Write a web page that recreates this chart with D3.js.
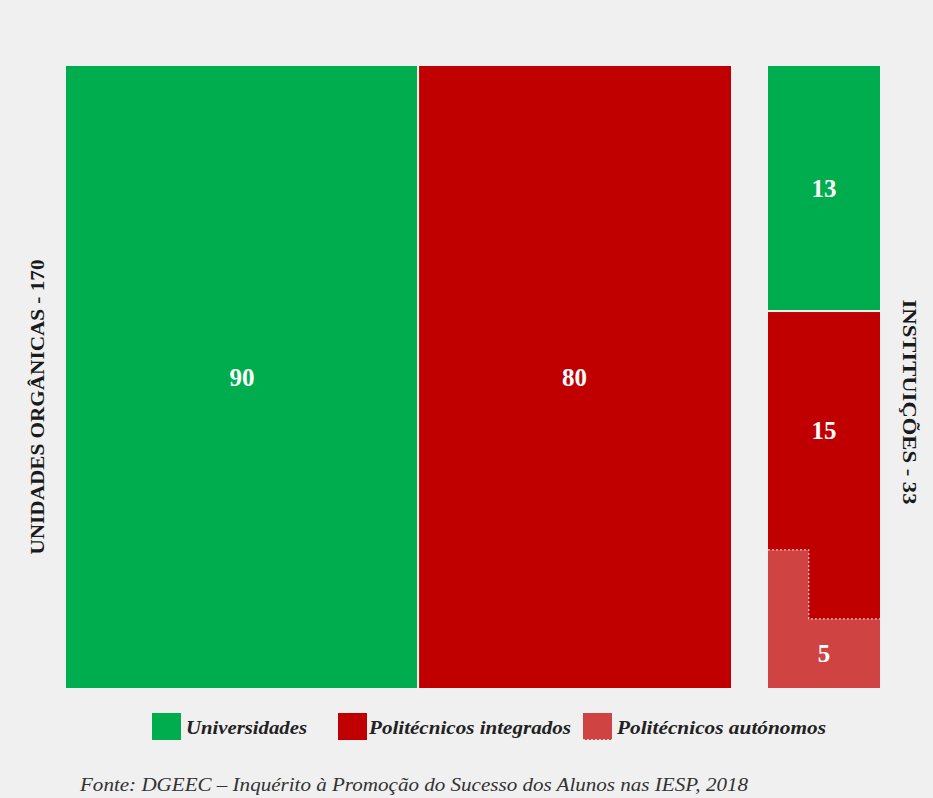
<!DOCTYPE html>
<html><head><meta charset="utf-8">
<script src="https://cdn.jsdelivr.net/npm/d3@7"></script>
<style>html,body{margin:0;padding:0;background:#f0f0f0;}svg{display:block;}</style>
</head><body>
<svg id="chart" width="933" height="798"></svg>
<script>
// ---- data ----
const categories = ["Universidades", "Politécnicos integrados", "Politécnicos autónomos"];
const unidadesValues = [90, 80];          // Unidades orgânicas (Universidades, Politécnicos integrados)
const instituicoesValues = [13, 15, 5];   // Instituições
const unidadesLabel = "UNIDADES ORGÂNICAS - 170";
const instituicoesLabel = "INSTITUIÇÕES - 33";
const sourceText = "Fonte: DGEEC – Inquérito à Promoção do Sucesso dos Alunos nas IESP, 2018";

// ---- style ----
const colors = ["#00ad4e", "#c00000", "#cf4343"];
const serif = "'Liberation Serif', 'DejaVu Serif', serif";
const svg = d3.select("#chart");
svg.append("rect").attr("width", 933).attr("height", 798).attr("fill", "#f0f0f0");

const plotTop = 66, plotBottom = 688;
// Left block
const leftTotal = d3.sum(unidadesValues);
const xL = d3.scaleLinear().domain([0, leftTotal]).range([66, 731]);
const y = d3.scaleLinear().domain([0, 1]).range([plotTop, plotBottom]);
let acc = 0;
const leftData = unidadesValues.map((v, i) => { const d = {v, i, x0: acc, x1: acc + v}; acc += v; return d; });
const gL = svg.append("g");
gL.selectAll("rect").data(leftData).join("rect")
  .attr("x", d => xL(d.x0) + (d.i > 0 ? 1 : 0))
  .attr("width", d => xL(d.x1) - xL(d.x0) - (d.i > 0 ? 1 : 0) - (d.i < leftData.length - 1 ? 1 : 0))
  .attr("y", y(0)).attr("height", y(1) - y(0))
  .attr("fill", d => colors[d.i]);
gL.selectAll("text").data(leftData).join("text")
  .attr("x", d => (xL(d.x0) + xL(d.x1)) / 2)
  .attr("y", (y(0) + y(1)) / 2)
  .attr("dy", "0.35em").attr("text-anchor", "middle")
  .attr("fill", "#fff").attr("font-family", serif).attr("font-weight", "bold").attr("font-size", 25)
  .text(d => d.v);

// Right column
const rightTotal = d3.sum(instituicoesValues);
const xR = d3.scaleLinear().domain([0, 1]).range([768, 880]);
const yR = d3.scaleLinear().domain([0, rightTotal]).range([plotTop, plotBottom]);
const W = xR(1) - xR(0), H = yR(rightTotal) - yR(0);
const gR = svg.append("g");
gR.append("rect").attr("x", xR(0)).attr("width", W)
  .attr("y", yR(0)).attr("height", yR(instituicoesValues[0]) - yR(0) - 1).attr("fill", colors[0]);
gR.append("rect").attr("x", xR(0)).attr("width", W)
  .attr("y", yR(instituicoesValues[0]) + 1).attr("height", yR(rightTotal) - yR(instituicoesValues[0]) - 1).attr("fill", colors[1]);
const rows = 9, rh = H / rows;
const area = instituicoesValues[2] / rightTotal * W * H;
const fullRows = Math.floor(area / (W * rh));
const remW = (area - fullRows * W * rh) / rh;
const yFull = yR(rightTotal) - fullRows * rh;
const yPart = yFull - rh;
const x0 = xR(0), x1 = xR(1), yb = yR(rightTotal);
const lpath = d3.path();
lpath.moveTo(x0, yb); lpath.lineTo(x1, yb); lpath.lineTo(x1, yFull);
lpath.lineTo(x0 + remW, yFull); lpath.lineTo(x0 + remW, yPart); lpath.lineTo(x0, yPart); lpath.closePath();
gR.append("path").attr("d", lpath.toString()).attr("fill", colors[2]);
const dpath = d3.path();
dpath.moveTo(x0, yPart); dpath.lineTo(x0 + remW, yPart); dpath.lineTo(x0 + remW, yFull); dpath.lineTo(x1, yFull);
gR.append("path").attr("d", dpath.toString()).attr("fill", "none")
  .attr("stroke", "#f4c8c8").attr("stroke-width", 1.2).attr("stroke-dasharray", "2,2");
const rLabels = [
  {v: instituicoesValues[0], y: (yR(0) + yR(instituicoesValues[0])) / 2},
  {v: instituicoesValues[1], y: (yR(instituicoesValues[0]) + yPart) / 2},
  {v: instituicoesValues[2], y: (yFull + yb) / 2}
];
gR.selectAll("text").data(rLabels).join("text")
  .attr("x", (x0 + x1) / 2).attr("y", d => d.y).attr("dy", "0.35em").attr("text-anchor", "middle")
  .attr("fill", "#fff").attr("font-family", serif).attr("font-weight", "bold").attr("font-size", 25)
  .text(d => d.v);

// side labels
svg.append("text").attr("transform", `translate(44,407) rotate(-90)`)
  .attr("text-anchor", "middle").attr("font-family", serif).attr("font-weight", "bold")
  .attr("font-size", 18).attr("fill", "#1a1a1a")
  .attr("textLength", 295).attr("lengthAdjust", "spacingAndGlyphs").text(unidadesLabel);
svg.append("text").attr("transform", `translate(903,402) rotate(90)`)
  .attr("text-anchor", "middle").attr("font-family", serif).attr("font-weight", "bold")
  .attr("font-size", 18).attr("fill", "#1a1a1a")
  .attr("textLength", 205).attr("lengthAdjust", "spacingAndGlyphs").text(instituicoesLabel);

// legend
const legendX = [152, 338, 583];
const legendTextX = [186, 369, 617];
const legendTextW = [121, 202, 209];
const lg = svg.append("g");
categories.forEach((c, i) => {
  lg.append("rect").attr("x", legendX[i]).attr("y", 713).attr("width", 29).attr("height", 27).attr("fill", colors[i]);
  if (i === 2) {
    lg.append("line").attr("x1", legendX[i]).attr("x2", legendX[i] + 29).attr("y1", 739.5).attr("y2", 739.5)
      .attr("stroke", "#f4c8c8").attr("stroke-dasharray", "2,2");
  }
  lg.append("text").attr("x", legendTextX[i]).attr("y", 734)
    .attr("font-family", serif).attr("font-style", "italic").attr("font-weight", "bold")
    .attr("font-size", 18).attr("fill", "#222")
    .attr("textLength", legendTextW[i]).attr("lengthAdjust", "spacingAndGlyphs").text(c);
});

// source
svg.append("text").attr("x", 80).attr("y", 791).attr("font-family", serif).attr("font-style", "italic")
  .attr("font-size", 18).attr("fill", "#333")
  .attr("textLength", 668).attr("lengthAdjust", "spacingAndGlyphs").text(sourceText);
</script>
</body></html>
